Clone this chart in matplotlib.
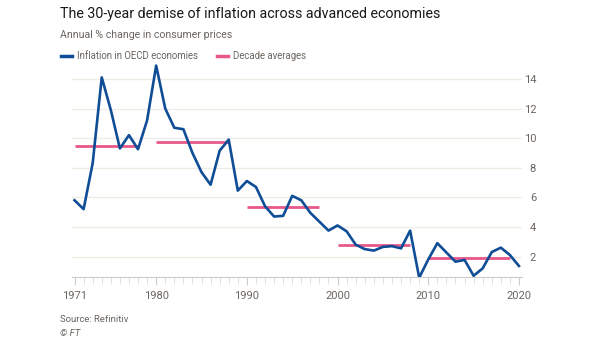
import numpy as np
import matplotlib.pyplot as plt
from matplotlib.ticker import FixedLocator, MultipleLocator

plt.rcParams["font.family"] = ["Roboto", "DejaVu Sans"]

# Annual % change in consumer prices, OECD
years = list(range(1971, 2021))
inflation = [5.8, 5.2, 8.3, 14.1, 11.9, 9.3, 10.2, 9.25, 11.2, 14.9,
             12.0, 10.7, 10.6, 9.0, 7.7, 6.85, 9.15, 9.9, 6.45, 7.1,
             6.7, 5.4, 4.7, 4.75, 6.1, 5.8, 4.95, 4.35, 3.75, 4.1,
             3.7, 2.8, 2.5, 2.4, 2.65, 2.7, 2.55, 3.75, 0.57, 1.8,
             2.9, 2.27, 1.65, 1.77, 0.7, 1.2, 2.3, 2.6, 2.1, 1.36]

# decade averages: start year, end year, value
dec_start = [1971, 1980, 1990, 2000, 2010]
dec_end = [1978, 1988, 1998, 2008, 2019]
dec_avg = [9.45, 9.74, 5.37, 2.76, 1.93]

blue = "#0f4d96"
pink = "#e8588a"
grid_col = "#efece6"
text_grey = "#6b6560"

fig = plt.figure(figsize=(6.05, 3.41), dpi=100)
ax = fig.add_axes([0.119, 0.187, 0.743, 0.625])

ax.hlines(dec_avg, dec_start, dec_end, color=pink, lw=2, zorder=2)
ax.plot(years, inflation, color=blue, lw=1.9, zorder=3)

ax.set_xlim(1970.72, 2020.28)
ax.set_ylim(0.6, 15)

ax.yaxis.tick_right()
ax.set_yticks([2, 4, 6, 8, 10, 12, 14])
ax.tick_params(axis="y", length=0, pad=10.5, labelsize=8, labelcolor=text_grey)
for lab in ax.get_yticklabels():
    lab.set_horizontalalignment("right")
ax.grid(axis="y", color=grid_col, lw=1, zorder=0)

ax.xaxis.set_major_locator(FixedLocator([1971, 1980, 1990, 2000, 2010, 2020]))
ax.xaxis.set_minor_locator(MultipleLocator(1))
ax.tick_params(axis="x", which="major", length=6, color="#cccccc", pad=4,
               labelsize=8, labelcolor=text_grey)
ax.tick_params(axis="x", which="minor", length=5, color="#dddddd")

for s in ["top", "left", "right"]:
    ax.spines[s].set_visible(False)
ax.spines["bottom"].set_color("#cccccc")

fig.text(60 / 605, 1 - 14 / 341, "The 30-year demise of inflation across advanced economies",
         fontsize=10.3, color="#1a1a1a", va="center", ha="left")
fig.text(60 / 605, 1 - 35 / 341, "Annual % change in consumer prices",
         fontsize=7.6, color=text_grey, va="center", ha="left")

# legend
ly = 1 - 56 / 341
fig.add_artist(plt.Line2D([61 / 605, 72 / 605], [ly, ly], color=blue, lw=2.5))
fig.text(77 / 605, ly, "Inflation in OECD economies", fontsize=6.9, color=text_grey, va="center")
fig.add_artist(plt.Line2D([217 / 605, 228 / 605], [ly, ly], color=pink, lw=2.5))
fig.text(233 / 605, ly, "Decade averages", fontsize=6.9, color=text_grey, va="center")

fig.text(60 / 605, 1 - 320 / 341, "Source: Refinitiv", fontsize=6.8, color=text_grey, va="center")
fig.text(60 / 605, 1 - 333 / 341, "© FT", fontsize=6.8, color=text_grey, va="center", style="italic")

fig.savefig("out.png", dpi=100, facecolor="white")
